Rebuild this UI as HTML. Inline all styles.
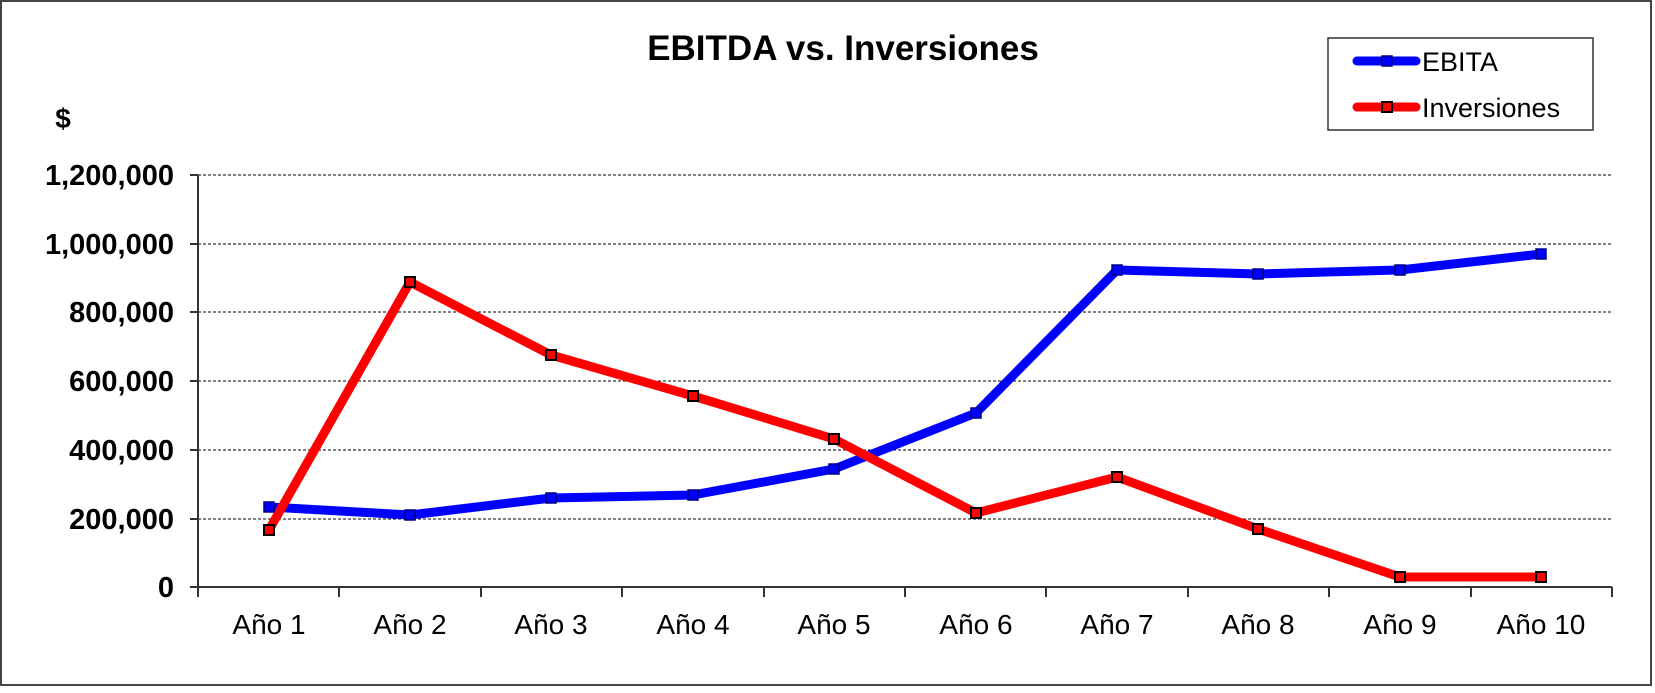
<!DOCTYPE html>
<html><head><meta charset="utf-8"><style>body{margin:0;background:#fff}</style></head><body>
<svg width="1655" height="688" xmlns="http://www.w3.org/2000/svg" font-family="Liberation Sans, Arial, sans-serif">
<rect x="1" y="1" width="1650" height="684" fill="#fff" stroke="#444" stroke-width="2"/>
<text x="843" y="60" font-size="35" font-weight="bold" text-anchor="middle">EBITDA vs. Inversiones</text>
<text x="63" y="128" font-size="28" font-weight="bold" text-anchor="middle">$</text>
<g stroke="#000" stroke-width="1" stroke-dasharray="3,2">
<line x1="198" x2="1612" y1="175" y2="175"/><line x1="198" x2="1612" y1="244" y2="244"/><line x1="198" x2="1612" y1="312" y2="312"/><line x1="198" x2="1612" y1="381" y2="381"/><line x1="198" x2="1612" y1="450" y2="450"/><line x1="198" x2="1612" y1="519" y2="519"/>
</g>
<g stroke="#333" stroke-width="2">
<line x1="198" y1="175" x2="198" y2="597"/><line x1="190" y1="587" x2="1612" y2="587"/>
<line x1="190" y1="175" x2="198" y2="175"/><line x1="190" y1="244" x2="198" y2="244"/><line x1="190" y1="312" x2="198" y2="312"/><line x1="190" y1="381" x2="198" y2="381"/><line x1="190" y1="450" x2="198" y2="450"/><line x1="190" y1="519" x2="198" y2="519"/>
<line x1="339" y1="587" x2="339" y2="597"/><line x1="481" y1="587" x2="481" y2="597"/><line x1="622" y1="587" x2="622" y2="597"/><line x1="764" y1="587" x2="764" y2="597"/><line x1="905" y1="587" x2="905" y2="597"/><line x1="1046" y1="587" x2="1046" y2="597"/><line x1="1188" y1="587" x2="1188" y2="597"/><line x1="1329" y1="587" x2="1329" y2="597"/><line x1="1471" y1="587" x2="1471" y2="597"/><line x1="1612" y1="587" x2="1612" y2="597"/>
</g>
<g font-size="29" font-weight="bold" text-anchor="end">
<text x="174" y="185">1,200,000</text><text x="174" y="254">1,000,000</text><text x="174" y="322">800,000</text><text x="174" y="391">600,000</text><text x="174" y="460">400,000</text><text x="174" y="529">200,000</text><text x="174" y="597">0</text>
</g>
<g font-size="28" text-anchor="middle">
<text x="269" y="634">Año 1</text><text x="410" y="634">Año 2</text><text x="551" y="634">Año 3</text><text x="693" y="634">Año 4</text><text x="834" y="634">Año 5</text><text x="976" y="634">Año 6</text><text x="1117" y="634">Año 7</text><text x="1258" y="634">Año 8</text><text x="1400" y="634">Año 9</text><text x="1541" y="634">Año 10</text>
</g>
<polyline fill="none" stroke="#0000ff" stroke-width="9" stroke-linejoin="round" stroke-linecap="round" points="269,507 410,515 551,498 693,495 834,469 976,413 1117,270 1258,274 1400,270 1541,254"/>
<polyline fill="none" stroke="#ff0000" stroke-width="9" stroke-linejoin="round" stroke-linecap="round" points="269,530 410,282 551,355 693,396 834,439 976,513 1117,477 1258,529 1400,577 1541,577"/>
<g fill="#0000ff" stroke="#000080" stroke-width="1.5">
<rect x="264" y="502" width="10" height="10"/><rect x="405" y="510" width="10" height="10"/><rect x="546" y="493" width="10" height="10"/><rect x="688" y="490" width="10" height="10"/><rect x="829" y="464" width="10" height="10"/><rect x="971" y="408" width="10" height="10"/><rect x="1112" y="265" width="10" height="10"/><rect x="1253" y="269" width="10" height="10"/><rect x="1395" y="265" width="10" height="10"/><rect x="1536" y="249" width="10" height="10"/>
</g>
<g fill="#ff0000" stroke="#000" stroke-width="2">
<rect x="264" y="525" width="10" height="10"/><rect x="405" y="277" width="10" height="10"/><rect x="546" y="350" width="10" height="10"/><rect x="688" y="391" width="10" height="10"/><rect x="829" y="434" width="10" height="10"/><rect x="971" y="508" width="10" height="10"/><rect x="1112" y="472" width="10" height="10"/><rect x="1253" y="524" width="10" height="10"/><rect x="1395" y="572" width="10" height="10"/><rect x="1536" y="572" width="10" height="10"/>
</g>
<rect x="1328" y="38" width="265" height="92" fill="#fff" stroke="#333" stroke-width="1.5"/>
<line x1="1357" y1="61" x2="1416" y2="61" stroke="#0000ff" stroke-width="9" stroke-linecap="round"/>
<rect x="1382" y="56" width="10" height="10" fill="#0000ff" stroke="#000080" stroke-width="1.5"/>
<line x1="1357" y1="107" x2="1416" y2="107" stroke="#ff0000" stroke-width="9" stroke-linecap="round"/>
<rect x="1382" y="102" width="10" height="10" fill="#ff0000" stroke="#000" stroke-width="2"/>
<text x="1422" y="71" font-size="27">EBITA</text>
<text x="1422" y="117" font-size="27">Inversiones</text>
</svg>
</body></html>
